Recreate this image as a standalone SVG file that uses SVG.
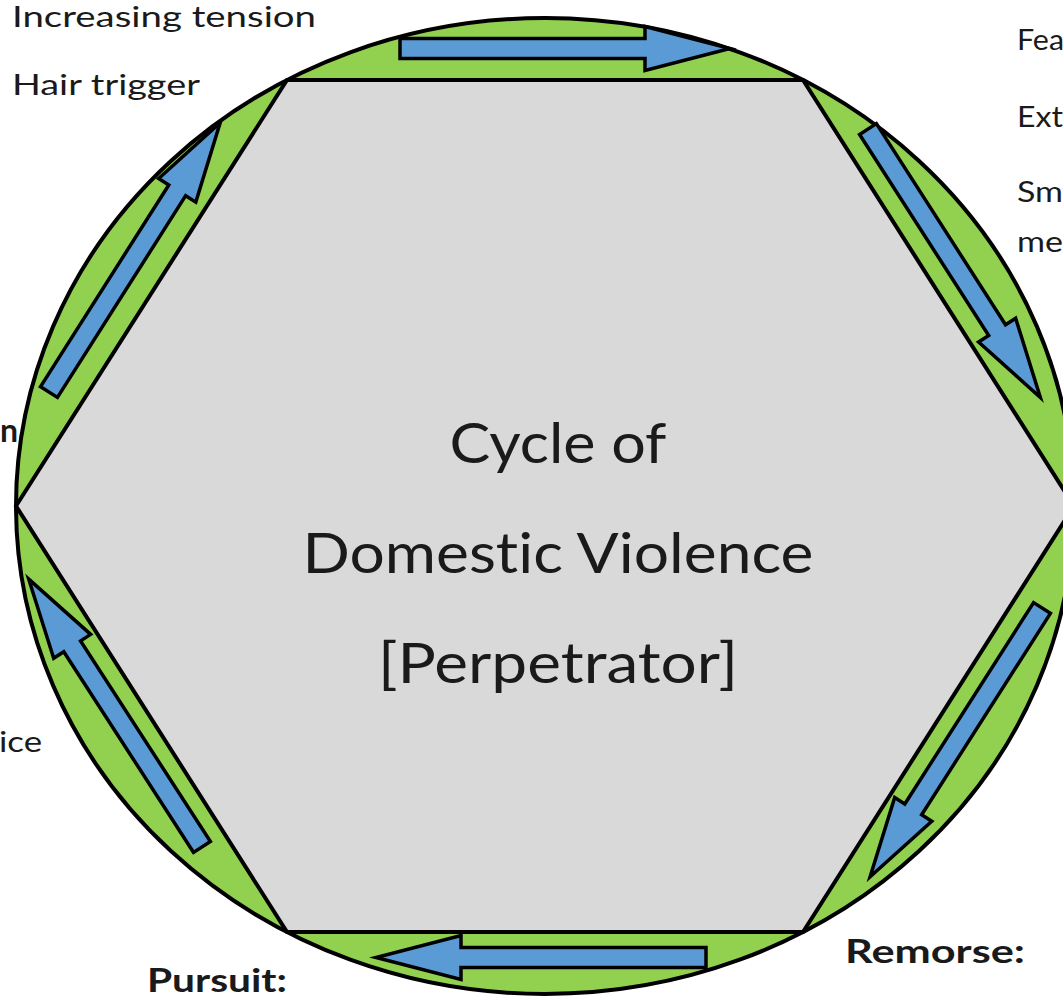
<svg xmlns="http://www.w3.org/2000/svg" width="1063" height="999" viewBox="0 0 1063 999">
<style>
text{font-variant-ligatures:none}
.ring{fill:#92D050;stroke:#000;stroke-width:4}
.hex{fill:#D9D9D9;stroke:#000;stroke-width:4;stroke-linejoin:miter}
.arrow{fill:#5B9BD5;stroke:#000;stroke-width:3.5;stroke-linejoin:miter}
.lbl{font-family:Lato,"Open Sans","Liberation Sans",sans-serif;font-size:28px;fill:#1a1a1a}
.bold{font-family:Lato,"Open Sans","Liberation Sans",sans-serif;font-size:32px;font-weight:bold;fill:#1a1a1a}
.title{font-family:Lato,"Open Sans","Liberation Sans",sans-serif;font-size:56px;fill:#1a1a1a;text-anchor:middle}
</style>
<defs>
<path id="arrDiag" d="M0,-10 H239 V-22 L319,0 L239,22 V10 H0 Z"/>
<path id="arrHorz" d="M0,-10 H245 V-22 L330,0 L245,22 V10 H0 Z"/>
</defs>
<g id="ring">
<ellipse class="ring" cx="545" cy="506" rx="529" ry="488"/>
</g>
<g id="hexagon">
<polygon class="hex" points="16,506 287,80 803,80 1074,506 803,932 287,932"/>
<text class="title" x="558" y="463" textLength="217" lengthAdjust="spacingAndGlyphs">Cycle of</text>
<text class="title" x="558" y="573" textLength="511" lengthAdjust="spacingAndGlyphs">Domestic Violence</text>
<text class="title" x="558" y="683" textLength="360" lengthAdjust="spacingAndGlyphs">[Perpetrator]</text>
</g>
<g id="connectors">
<use href="#arrHorz" class="arrow" transform="translate(400,48.5)"/>
<use href="#arrDiag" class="arrow" transform="translate(868,129) rotate(57.3)"/>
<use href="#arrDiag" class="arrow" transform="translate(1042,608) rotate(122.6)"/>
<use href="#arrHorz" class="arrow" transform="translate(706,957.5) rotate(180)"/>
<use href="#arrDiag" class="arrow" transform="translate(202,847) rotate(-122.9)"/>
<use href="#arrDiag" class="arrow" transform="translate(49,392) rotate(-57.55)"/>
</g>
<g id="labels">
<text class="lbl" x="12" y="27" textLength="304" lengthAdjust="spacingAndGlyphs">Increasing tension</text>
<text class="lbl" x="12" y="95" textLength="188" lengthAdjust="spacingAndGlyphs">Hair trigger</text>
<text class="lbl" x="1017" y="50" textLength="47" lengthAdjust="spacingAndGlyphs">Fea</text>
<text class="lbl" x="1017" y="127" textLength="46" lengthAdjust="spacingAndGlyphs">Ext</text>
<text class="lbl" x="1017" y="202" textLength="46" lengthAdjust="spacingAndGlyphs">Sm</text>
<text class="lbl" x="1017" y="252" textLength="46" lengthAdjust="spacingAndGlyphs">me</text>
<text class="bold" x="0" y="442" font-size="34">n</text>
<text class="lbl" x="-1" y="752" textLength="43" lengthAdjust="spacingAndGlyphs">ice</text>
<text class="bold" x="147" y="992" textLength="140" lengthAdjust="spacingAndGlyphs">Pursuit:</text>
<text class="bold" x="845" y="963" textLength="180" lengthAdjust="spacingAndGlyphs">Remorse:</text>
</g>
</svg>
